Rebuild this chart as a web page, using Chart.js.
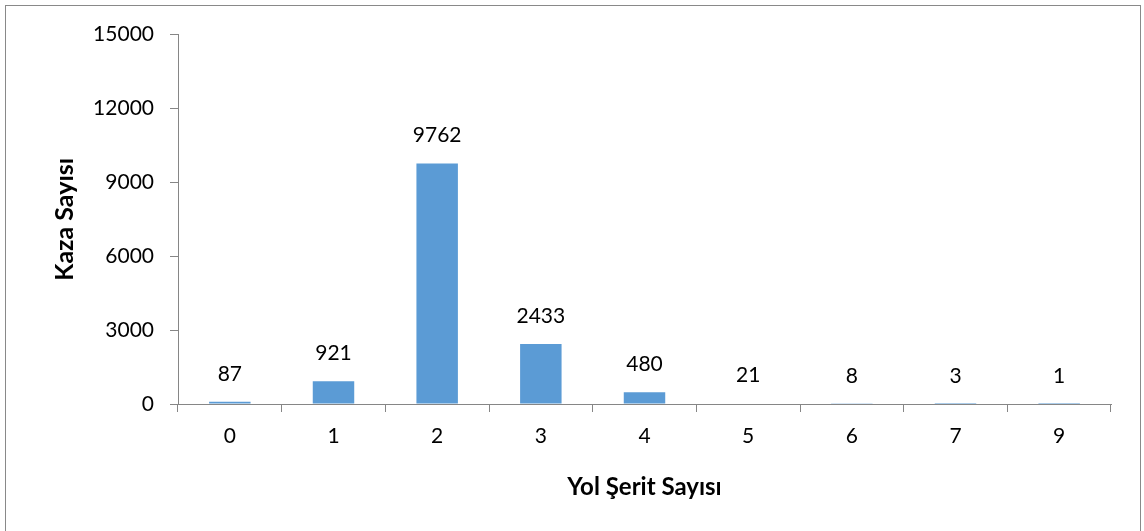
<!DOCTYPE html>
<html>
<head>
<meta charset="utf-8">
<script src="https://cdn.jsdelivr.net/npm/chart.js@4"></script>
<style>
  html, body { margin: 0; padding: 0; background: #fff; overflow: hidden; }
  #frame {
    position: absolute; left: 5px; top: 5px;
    width: 1134px; height: 530px;
    border: 1px solid #898989;
    border-bottom: none;
  }
</style>
</head>
<body>
<div id="frame"><canvas id="lane-chart" width="1134" height="520"></canvas></div>
<script>
const LANES = ['0', '1', '2', '3', '4', '5', '6', '7', '9'];
const ACCIDENTS = [87, 921, 9762, 2433, 480, 21, 8, 3, 1];
const Y_TICKS = [0, 3000, 6000, 9000, 12000, 15000];

const FONT = 'Lato, Calibri, "Open Sans", sans-serif';
const AXIS_GREY = '#868686';

// draws the value above each bar (no datalabels plugin available offline)
const valueLabels = {
  id: 'valueLabels',
  afterDatasetsDraw(chart) {
    const ctx = chart.ctx;
    const meta = chart.getDatasetMeta(0);
    ctx.save();
    ctx.font = '21px ' + FONT;
    ctx.fillStyle = '#000';
    ctx.textAlign = 'center';
    ctx.textBaseline = 'middle';
    meta.data.forEach((bar, i) => {
      ctx.fillText(String(ACCIDENTS[i]), bar.x, bar.y - 28);
    });
    ctx.restore();
  }
};

new Chart(document.getElementById('lane-chart'), {
  type: 'bar',
  data: {
    labels: LANES,
    datasets: [{
      data: ACCIDENTS,
      backgroundColor: '#5B9BD5',
      barPercentage: 1,
      categoryPercentage: 0.4
    }]
  },
  options: {
    responsive: false,
    animation: false,
    layout: { padding: { left: 0, top: 28, right: 29, bottom: 0 } },
    plugins: {
      legend: { display: false },
      tooltip: { enabled: false }
    },
    scales: {
      x: {
        afterFit(scale) { scale.height = 122; },
        grid: {
          drawOnChartArea: false,
          drawTicks: true,
          tickLength: 8,
          color: AXIS_GREY
        },
        border: { color: AXIS_GREY },
        ticks: {
          color: '#000',
          padding: 12,
          font: { family: FONT, size: 21 }
        },
        title: {
          display: true,
          text: 'Yol Şerit Sayısı',
          color: '#000',
          padding: { top: 0, bottom: 24 },
          font: { family: FONT, size: 24, weight: 'bold' }
        }
      },
      y: {
        min: 0,
        max: 15000,
        afterFit(scale) { scale.width = 172; },
        afterBuildTicks(scale) { scale.ticks = Y_TICKS.map(v => ({ value: v })); },
        grid: {
          drawOnChartArea: false,
          drawTicks: true,
          tickLength: 8,
          color: AXIS_GREY
        },
        border: { color: AXIS_GREY },
        ticks: {
          color: '#000',
          padding: 16,
          font: { family: FONT, size: 21 },
          callback: v => String(v)
        },
        title: {
          display: true,
          text: 'Kaza Sayısı',
          color: '#000',
          padding: { top: 44, bottom: 0 },
          font: { family: FONT, size: 25, weight: 'bold' }
        }
      }
    }
  },
  plugins: [valueLabels]
});
</script>
</body>
</html>
